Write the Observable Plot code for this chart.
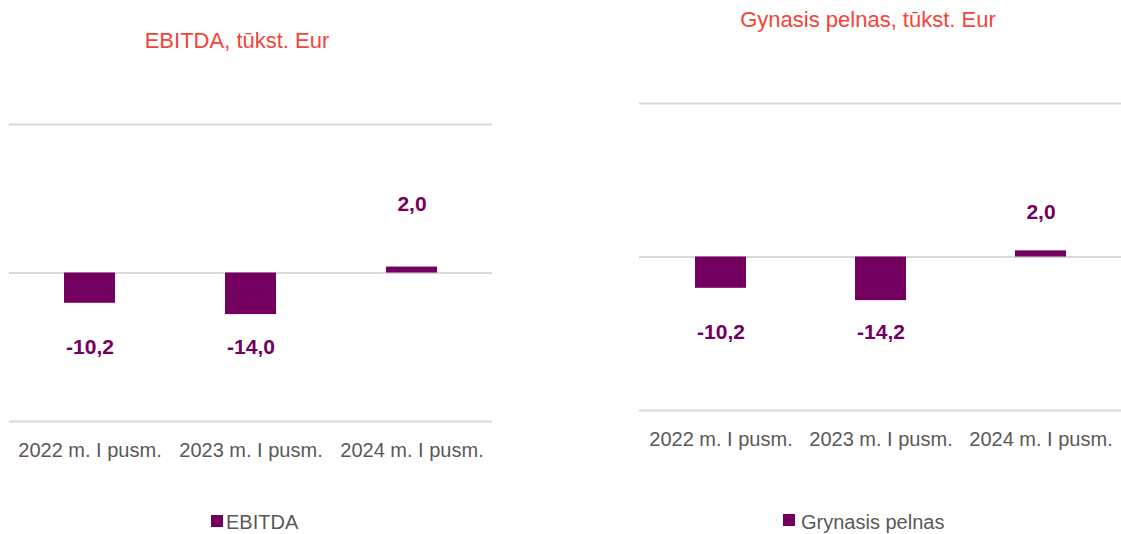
<!DOCTYPE html>
<html>
<head>
<meta charset="utf-8">
<script src="https://cdn.jsdelivr.net/npm/d3@7"></script>
<script src="https://cdn.jsdelivr.net/npm/@observablehq/plot@0.6"></script>
<style>
  body { margin: 0; background: #fff; }
  #root { position: relative; width: 1121px; height: 534px; overflow: hidden; font-family: "Liberation Sans", Arial, sans-serif; }
  .title { position: absolute; font-size: 22px; color: #f4433b; white-space: nowrap; transform: translateX(-50%); line-height: normal; }
  .panel { position: absolute; }
  .sw { position: absolute; width: 12px; height: 12px; background: #73005f; }
  .lg { position: absolute; font-size: 20px; color: #595959; white-space: nowrap; line-height: normal; }
</style>
</head>
<body>
<div id="root"></div>
<script>
// ---- data ----
const categories = ["2022 m. I pusm.", "2023 m. I pusm.", "2024 m. I pusm."];
const ebitdaValues = [-10.2, -14.0, 2.0];
const netProfitValues = [-10.2, -14.2, 2.0];
const yTicks = [-50, 0, 50];
const ebitdaTitle = "EBITDA, tūkst. Eur";
const netProfitTitle = "Gynasis pelnas, tūkst. Eur";
const ebitdaLegend = "EBITDA";
const netProfitLegend = "Grynasis pelnas";

const BAR = "#73005f";
const GRID = "#d9d9d9";
const fmt = v => v.toFixed(1).replace(".", ",");

function makeChart(values, cfg) {
  const data = categories.map((c, i) => ({cat: c, value: values[i]}));
  const neg = data.filter(d => d.value < 0);
  const pos = data.filter(d => d.value >= 0);
  return Plot.plot({
    width: cfg.width,
    height: cfg.height,
    marginTop: cfg.mt,
    marginBottom: cfg.mb,
    marginLeft: cfg.ml,
    marginRight: cfg.mr,
    style: {fontFamily: '"Liberation Sans", Arial, sans-serif', background: "transparent", overflow: "visible"},
    x: {domain: categories, paddingInner: 0.683, paddingOuter: 0.3415, axis: null},
    y: {domain: [yTicks[0], yTicks[yTicks.length - 1]], axis: null},
    marks: [
      Plot.ruleY(yTicks, {stroke: GRID, strokeWidth: 2}),
      Plot.barY(data, {x: "cat", y: "value", fill: BAR}),
      Plot.text(neg, {x: "cat", y: () => 0, dy: cfg.negDy, text: d => fmt(d.value), fill: BAR, fontSize: 21, fontWeight: "bold"}),
      Plot.text(pos, {x: "cat", y: "value", dy: cfg.posDy, text: d => fmt(d.value), fill: BAR, fontSize: 21, fontWeight: "bold"}),
      Plot.axisX({anchor: "bottom", tickSize: 0, tickPadding: 21, fontSize: 20, color: "#595959", label: null})
    ]
  });
}

const root = document.getElementById("root");

function addPanel(svg, left, top) {
  const d = document.createElement("div");
  d.className = "panel";
  d.style.left = left + "px";
  d.style.top = top + "px";
  d.appendChild(svg);
  root.appendChild(d);
}
function addTitle(text, cx, top) {
  const d = document.createElement("div");
  d.className = "title";
  d.textContent = text;
  d.style.left = cx + "px";
  d.style.top = top + "px";
  root.appendChild(d);
}
function addLegend(text, swLeft, swTop, txtLeft, txtTop) {
  const s = document.createElement("div");
  s.className = "sw";
  s.style.left = swLeft + "px";
  s.style.top = swTop + "px";
  root.appendChild(s);
  const t = document.createElement("div");
  t.className = "lg";
  t.textContent = text;
  t.style.left = txtLeft + "px";
  t.style.top = txtTop + "px";
  root.appendChild(t);
}

addTitle(ebitdaTitle, 237, 28);
addTitle(netProfitTitle, 868, 7);

addPanel(makeChart(ebitdaValues, {width: 560, height: 380, mt: 24, mb: 59, ml: 9, mr: 68, negDy: 74, posDy: -63}), 0, 100);
addPanel(makeChart(netProfitValues, {width: 561, height: 380, mt: 23, mb: 50, ml: 79, mr: 0, negDy: 75, posDy: -39}), 560, 80);

addLegend(ebitdaLegend, 211, 515, 226, 511);
addLegend(netProfitLegend, 783, 514, 801, 511);
</script>
</body>
</html>
